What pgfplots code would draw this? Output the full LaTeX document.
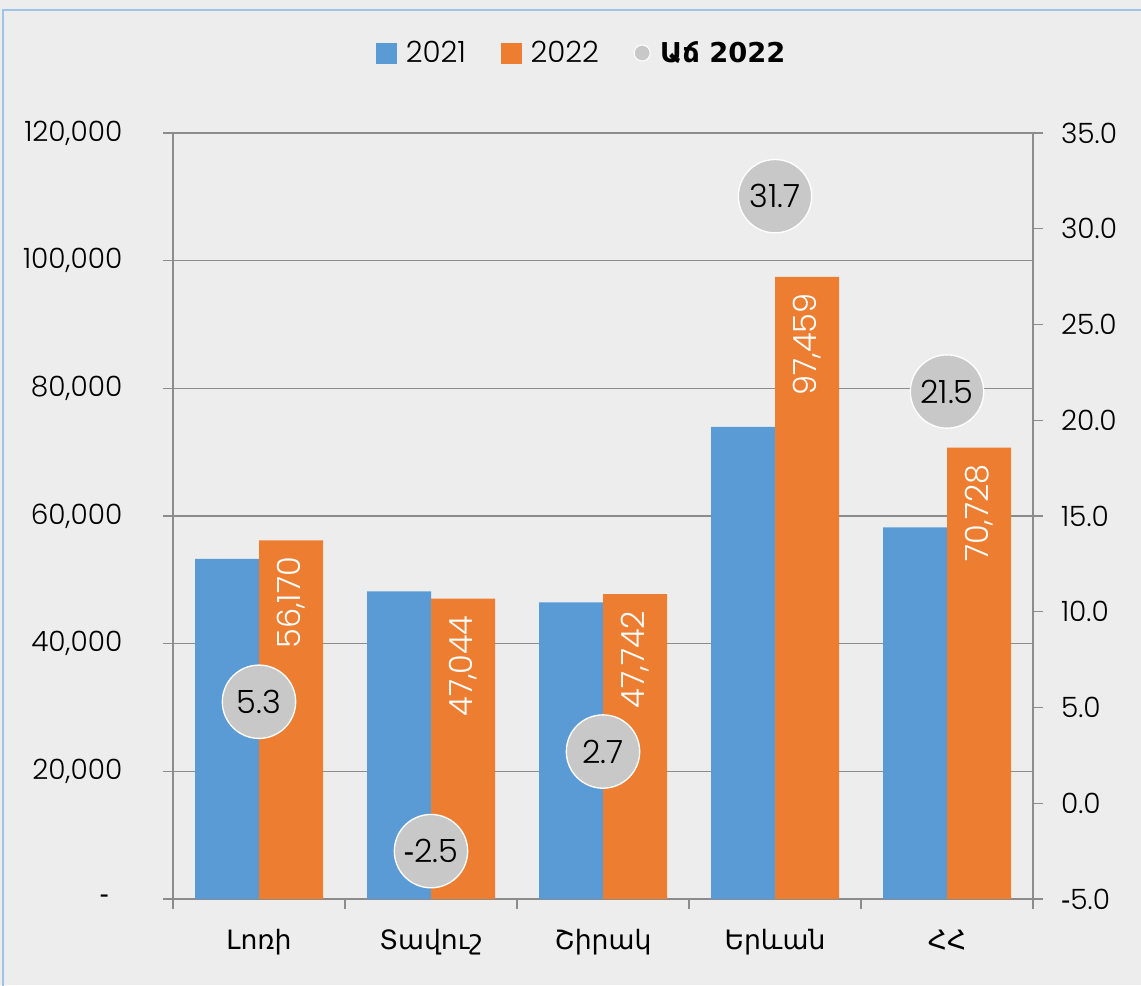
\documentclass[border=0pt]{standalone}
\usepackage{fontspec}
\setmainfont{Poppins}[UprightFont={* Light}]
\newfontfamily\arm{DejaVu Sans}
\newfontfamily\lib{Liberation Sans}
\newcommand\hy{{\lib-}}
\usepackage{pgfplots}
\pgfplotsset{compat=1.18}
\definecolor{bgc}{RGB}{237,237,237}
\definecolor{c21}{RGB}{91,155,213}
\definecolor{c22}{RGB}{237,125,49}
\definecolor{bub}{RGB}{200,200,200}
\definecolor{axg}{RGB}{140,140,140}
\definecolor{frm}{RGB}{157,195,230}
\begin{document}
\begin{tikzpicture}
\path[use as bounding box, fill=bgc] (0,0) rectangle (855.75pt,738.75pt);
\draw[frm, line width=1.2pt] (2.25pt,-5pt) -- (2.25pt,731.25pt) -- (870pt,731.25pt);
\begin{axis}[
  at={(129.75pt,64.5pt)}, anchor=south west,
  scale only axis, width=645pt, height=574.5pt,
  ybar=0pt, bar width=48pt,
  xmin=-0.5, xmax=4.5, ymin=0, ymax=120000,
  scaled y ticks=false,
  axis x line*=bottom, axis y line*=left,
  axis line style={axg, line width=0.8pt},
  xtick={0,1,2,3,4},
  xticklabels={Լոռի,Տավուշ,Շիրակ,Երևան,ՀՀ},
  xticklabel style={font=\arm\fontsize{20pt}{24pt}\selectfont, yshift=-12pt},
  xtick style={draw=none},
  extra x ticks={-0.5,0.5,1.5,2.5,3.5,4.5},
  extra x tick labels={},
  extra x tick style={grid=none, xtick style={draw=axg, line width=0.8pt}, major tick length=7.5pt, tick align=outside},
  ytick={0,20000,40000,60000,80000,100000,120000},
  yticklabels={\makebox[17pt][l]{\hy},{20,000},{40,000},{60,000},{80,000},{100,000},{120,000}},
  yticklabel style={font=\fontsize{21pt}{25pt}\selectfont, xshift=-27pt},
  ytick style={draw=axg, line width=0.8pt},
  tick align=outside, major tick length=7.5pt,
  ymajorgrids, grid style={axg, line width=0.8pt},
  /pgf/number format/assume math mode=true,
  /pgf/number format/1000 sep={,},
  clip=false,
]
\addplot[fill=c21, draw=none] coordinates {(0,53300) (1,48200) (2,46450) (3,73950) (4,58200)};
\addplot[fill=c22, draw=none,
  nodes near coords,
  every node near coord/.append style={yshift=-9pt, rotate=90, anchor=east, text=white, font=\fontsize{24pt}{28pt}\selectfont}]
  coordinates {(0,56170) (1,47044) (2,47742) (3,97459) (4,70728)};
\end{axis}
\begin{axis}[
  at={(129.75pt,64.5pt)}, anchor=south west,
  scale only axis, width=645pt, height=574.5pt,
  xmin=-0.5, xmax=4.5, ymin=-5, ymax=35,
  axis x line=none, axis y line*=right,
  axis line style={axg, line width=0.8pt},
  ytick={-5,0,5,10,15,20,25,30,35},
  yticklabels={\hy5.0,0.0,5.0,10.0,15.0,20.0,25.0,30.0,35.0},
  yticklabel style={font=\fontsize{21pt}{25pt}\selectfont, xshift=10pt},
  ytick style={draw=axg, line width=0.8pt},
  tick align=outside, major tick length=7.5pt,
  clip=false,
  legend style={at={(0.4756,1.1044)}, anchor=center, draw=none, fill=none,
    font=\fontsize{22pt}{26pt}\selectfont,
    /tikz/every odd column/.append style={column sep=5pt},
    /tikz/every even column/.append style={column sep=24pt}},
  legend columns=-1,
  legend cell align=left,
]
\addlegendimage{legend image code/.code={\fill[c21] (0pt,-7.5pt) rectangle (15pt,7.5pt);}}
\addlegendentry{2021}
\addlegendimage{legend image code/.code={\fill[c22] (0pt,-7.5pt) rectangle (15pt,7.5pt);}}
\addlegendentry{2022}
\addplot[only marks, mark=*, mark size=27.5pt, mark options={fill=bub, draw=white, line width=1pt},
  point meta=explicit symbolic,
  nodes near coords={\pgfplotspointmeta},
  every node near coord/.append style={anchor=center, text=black, font=\fontsize{24pt}{28pt}\selectfont},
  legend image code/.code={\filldraw[fill=bub, draw=white, line width=0.8pt] (6pt,0pt) circle (6pt);}]
  coordinates {(0,5.3) [5.3] (1,-2.5) [\hy2.5] (2,2.7) [2.7] (3,31.7) [31.7] (4,21.5) [21.5]};
\addlegendentry{{\arm\bfseries\fontsize{20.5pt}{24pt}\selectfont Աճ 2022}}
\end{axis}
\end{tikzpicture}
\end{document}
